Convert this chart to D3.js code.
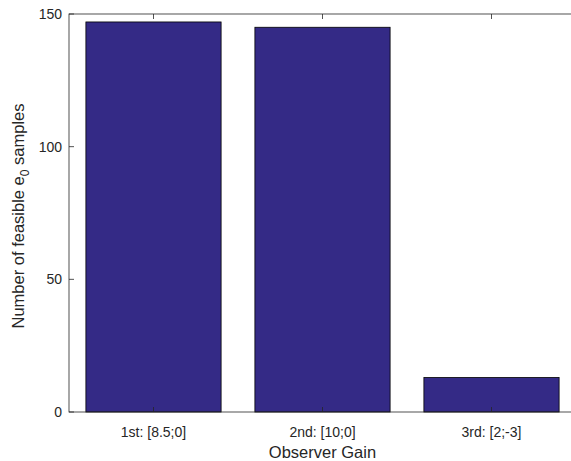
<!DOCTYPE html>
<html>
<head>
<meta charset="utf-8">
<script src="https://cdn.jsdelivr.net/npm/d3@7"></script>
<style>
  body { margin: 0; background: #fff; }
  text { font-family: "Liberation Sans", Arial, sans-serif; fill: #262626; }
</style>
</head>
<body>
<script>
'use strict';

const categories = ["1st: [8.5;0]", "2nd: [10;0]", "3rd: [2;-3]"];
const samples = [147, 145, 13];
const yTicks = [0, 50, 100, 150];

{
	const W = 571, H = 461;
	let margin = {top: 14, left: 69},
	    width = 507,
	    height = 398;

	let svg = d3.select("body").append("svg")
		.attr("width", W)
		.attr("height", H);

	let g = svg.append("g")
		.attr("transform", `translate(${margin.left},${margin.top})`);

	// MATLAB style: categories at 1..n, limits 0.5..n+0.5
	let x = d3.scaleLinear()
		.domain([0.5, categories.length + 0.5])
		.range([0, width]);

	let y = d3.scaleLinear()
		.domain([0, 150])
		.range([height, 0]);

	let bw = (x(2) - x(1)) * 0.8;

	g.selectAll("rect.bar")
		.data(samples)
		.enter()
		.append("rect")
		.attr("class", "bar")
		.attr("x", (d, i) => x(i + 1) - bw / 2)
		.attr("y", d => y(d))
		.attr("width", bw)
		.attr("height", d => y(0) - y(d))
		.attr("fill", "#342a86")
		.attr("stroke", "#000")
		.attr("stroke-width", 0.8);

	const axisColor = "#262626";
	const tl = 5;

	// box
	g.append("rect")
		.attr("x", 0).attr("y", 0)
		.attr("width", width).attr("height", height)
		.attr("fill", "none")
		.attr("stroke", axisColor)
		.attr("stroke-width", 0.8);

	// x ticks, bottom and top (inward)
	categories.forEach((c, i) => {
		let cx = x(i + 1);
		g.append("line").attr("x1", cx).attr("x2", cx)
			.attr("y1", height).attr("y2", height - tl)
			.attr("stroke", axisColor).attr("stroke-width", 0.8);
		g.append("line").attr("x1", cx).attr("x2", cx)
			.attr("y1", 0).attr("y2", tl)
			.attr("stroke", axisColor).attr("stroke-width", 0.8);
		g.append("text")
			.attr("x", cx).attr("y", height + 25)
			.attr("text-anchor", "middle")
			.attr("font-size", "14px")
			.text(c);
	});

	// y ticks
	yTicks.forEach(t => {
		g.append("line").attr("x1", 0).attr("x2", tl)
			.attr("y1", y(t)).attr("y2", y(t))
			.attr("stroke", axisColor).attr("stroke-width", 0.8);
		g.append("text")
			.attr("x", -7).attr("y", y(t))
			.attr("dy", "0.35em")
			.attr("text-anchor", "end")
			.attr("font-size", "14px")
			.text(t);
	});

	// axis labels
	g.append("text")
		.attr("x", width / 2).attr("y", height + 46)
		.attr("text-anchor", "middle")
		.attr("font-size", "16.5px")
		.text("Observer Gain");

	let yl = svg.append("text")
		.attr("transform", `translate(24,${margin.top + height / 2 + 3}) rotate(-90)`)
		.attr("text-anchor", "middle")
		.attr("font-size", "16.5px");
	yl.append("tspan").text("Number of feasible e");
	yl.append("tspan").attr("baseline-shift", "-5").attr("font-size", "12px").text("0");
	yl.append("tspan").text(" samples");
}
</script>
</body>
</html>
